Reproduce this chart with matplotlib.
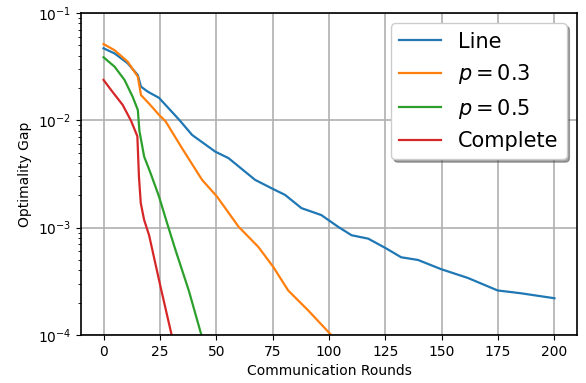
import matplotlib
matplotlib.use("Agg")
import matplotlib.pyplot as plt

# values (log scale)
line_x = [0, 4.9, 10.7, 15.2, 16.6, 19.6, 24.6, 33.4, 39.3, 49.6, 55.4, 67.2, 74.5,
          80.5, 87.8, 96.6, 104, 110, 117.4, 125.4, 132, 139.5, 149.8, 161.6,
          174.8, 185, 200]
line_y = [0.0469, 0.042, 0.034, 0.0264, 0.0206, 0.0185, 0.0162, 0.0102, 0.0073,
          0.0051, 0.00445, 0.00279, 0.00233, 0.00202, 0.00152, 0.00131, 0.00102,
          0.00085, 0.00079, 0.00064, 0.00053, 0.00050, 0.00041, 0.00034,
          0.00026, 0.000245, 0.00022]

p03_x = [0, 4.9, 10.7, 15.2, 16.6, 20.2, 24.7, 27.5, 34.8, 43.7, 50.3, 59.9,
         68.7, 75.3, 81.9, 90.7, 101]
p03_y = [0.0514, 0.045, 0.0352, 0.0255, 0.0172, 0.0143, 0.0112, 0.0098, 0.0055,
         0.00279, 0.00195, 0.00102, 0.00066, 0.00043, 0.00026, 0.00017, 0.0001]

p05_x = [0, 4.9, 9.3, 12.9, 15.2, 15.9, 18, 20.9, 24.6, 28.2, 31.9, 37.8, 43.4]
p05_y = [0.0387, 0.0316, 0.0238, 0.0166, 0.0125, 0.0080, 0.0046, 0.0032,
         0.00195, 0.0011, 0.00062, 0.00026, 0.0001]

comp_x = [0, 3.4, 8.5, 12.2, 15.0, 15.7, 16.5, 18.0, 20.2, 25.3, 30.2]
comp_y = [0.0238, 0.0191, 0.0139, 0.0099, 0.0071, 0.0030, 0.0017, 0.00118,
          0.00085, 0.00028, 0.0001]

fig = plt.figure(figsize=(5.86, 3.83), dpi=100)
ax = fig.add_axes([81 / 586, 48 / 383, 496 / 586, 322 / 383])

ax.plot(line_x, line_y, color="#1f77b4", lw=1.6, label="Line")
ax.plot(p03_x, p03_y, color="#ff7f0e", lw=1.6, label="$p = 0.3$")
ax.plot(p05_x, p05_y, color="#2ca02c", lw=1.6, label="$p = 0.5$")
ax.plot(comp_x, comp_y, color="#d62728", lw=1.6, label="Complete")

ax.set_yscale("log")
ax.set_ylim(1e-4, 1e-1)
ax.set_xlim(-10, 210)
ax.set_xticks([0, 25, 50, 75, 100, 125, 150, 175, 200])
ax.grid(True, which="major", color="#b0b0b0", lw=1.2)
ax.set_xlabel("Communication Rounds")
ax.set_ylabel("Optimality Gap")
for s in ax.spines.values():
    s.set_linewidth(1.2)

ax.legend(loc="upper right", fontsize=15, shadow=True, framealpha=1)

fig.savefig("out.png", dpi=100)
